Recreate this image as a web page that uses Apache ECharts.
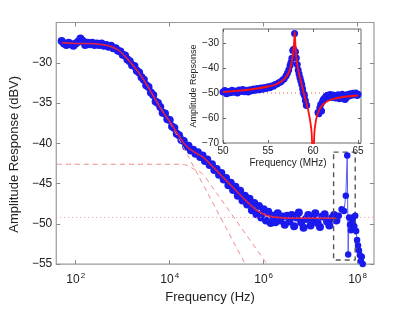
<!DOCTYPE html>
<html><head><meta charset="utf-8">
<script src="https://cdn.jsdelivr.net/npm/echarts@6/dist/echarts.min.js"></script>
<style>html,body{margin:0;padding:0;background:#fff}#c{width:414px;height:309px}</style>
</head><body><div id="c"></div>
<script>
// ---- Main plot: log10(frequency / Hz) and amplitude (dBV) ----
const mainLogF = [1.70,1.75,1.80,1.85,1.90,1.95,2.00,2.05,2.10,2.15,2.20,2.25,2.30,2.35,2.40,2.45,2.50,2.55,2.60,2.65,2.70,2.75,2.80,2.85,2.90,2.95,3.00,3.05,3.10,3.15,3.20,3.25,3.30,3.35,3.40,3.45,3.50,3.55,3.60,3.65,3.70,3.75,3.80,3.85,3.90,3.95,4.00,4.05,4.10,4.15,4.20,4.25,4.30,4.35,4.40,4.45,4.50,4.55,4.60,4.65,4.70,4.75,4.80,4.85,4.90,4.95,5.00,5.05,5.10,5.15,5.20,5.25,5.30,5.35,5.40,5.45,5.50,5.55,5.60,5.65,5.70,5.75,5.80,5.85,5.90,5.95,6.00,6.05,6.10,6.15,6.20,6.25,6.30,6.35,6.40,6.45,6.50,6.55,6.60,6.65,6.70,6.75,6.80,6.85,6.90,6.95,7.00,7.05,7.10,7.15,7.20,7.25,7.30,7.35,7.40,7.45,7.50,7.55];
const mainDb = [-27.3,-27.6,-27.8,-27.5,-27.7,-27.9,-27.6,-27.4,-27.0,-27.3,-27.8,-27.5,-27.7,-27.5,-27.8,-27.6,-27.8,-27.6,-27.9,-27.8,-28.0,-27.9,-28.2,-28.2,-28.5,-28.6,-29.0,-29.1,-29.6,-29.8,-30.3,-30.4,-31.0,-31.2,-31.8,-32.1,-32.8,-33.0,-33.7,-34.0,-34.8,-35.0,-35.5,-36.2,-36.3,-37.0,-37.1,-37.9,-38.1,-38.8,-39.0,-39.6,-39.7,-40.4,-40.3,-40.9,-40.8,-41.3,-41.1,-41.7,-41.5,-42.2,-42.0,-42.7,-42.6,-43.3,-43.2,-43.9,-43.7,-44.5,-44.3,-45.2,-44.9,-45.8,-45.4,-46.5,-45.9,-47.1,-46.5,-47.6,-46.9,-48.3,-47.4,-48.8,-47.8,-49.2,-48.2,-49.6,-48.5,-49.9,-49.0,-49.8,-48.7,-49.6,-49.1,-50.1,-49.0,-49.7,-48.9,-50.3,-49.2,-48.6,-49.8,-50.5,-49.4,-48.9,-50.2,-49.5,-48.7,-49.9,-50.4,-49.1,-48.8,-49.7,-50.2,-49.3,-48.9,-49.6];
const tailLogF = [7.60,7.66,7.71,7.75,7.78,7.80,7.82,7.84,7.86,7.88,7.90,7.93,7.95,7.97,7.99,8.01,8.03,8.05,8.07,8.09,8.11];
const tailDb = [-49.0,-48.2,-48.4,-46.5,-41.5,-53.8,-49.2,-50.1,-50.8,-49.6,-49.2,-50.3,-49.0,-50.9,-52.0,-52.7,-53.3,-53.9,-54.6,-54.1,-55.0];
const fitLogF = [1.7,2.0,2.3,2.5,2.7,2.9,3.05,3.2,3.4,3.6,3.8,4.0,4.2,4.35,4.5,4.7,4.9,5.05,5.2,5.4,5.6,5.75,5.9,6.1,6.3,6.6,7.0,7.3,7.62];
const fitDb = [-27.5,-27.6,-27.6,-27.7,-27.9,-28.4,-29.2,-30.2,-31.7,-33.6,-35.6,-37.3,-39.1,-40.3,-41.0,-41.7,-42.8,-43.7,-44.6,-45.8,-47.0,-47.8,-48.5,-49.0,-49.2,-49.3,-49.3,-49.3,-49.3];
const dash1LogF = [3.5,3.6,3.8,4.0,4.2,4.4,4.6,4.8,5.0,5.2,5.4,5.6,5.7];
const dash1Db = [-32.7,-33.6,-35.5,-37.4,-39.5,-41.7,-43.9,-46.1,-48.3,-50.5,-52.7,-54.9,-56.0];
const dash2LogF = [1.6,4.2,4.35,4.45,4.55,4.7,5.0,5.5,6.0,6.15];
const dash2Db = [-42.6,-42.6,-42.7,-43.0,-43.3,-43.8,-46.2,-50.3,-54.4,-55.6];
const floorLogF = [1.585,8.35];
const floorDb = [-49.2,-49.2];
const boxLogF = [7.49,7.95,7.95,7.49,7.49];
const boxDb = [-41.1,-41.1,-54.5,-54.5,-41.1];
const mainXTicks = [2,4,6,8];
const mainYTicks = [-55,-50,-45,-40,-35,-30];

// ---- Inset: frequency (MHz) and amplitude ----
const insetF = [50.0,50.2,50.4,50.6,50.8,51.0,51.2,51.4,51.6,51.8,52.0,52.2,52.4,52.6,52.8,53.0,53.2,53.4,53.6,53.8,54.0,54.2,54.4,54.6,54.8,55.0,55.2,55.4,55.6,55.8,56.0,56.2,56.4,56.6,56.8,57.0,57.15,57.3,57.45,57.55,57.65,57.75,57.85,57.95,58.05,58.15,58.25,58.35,58.45,58.55,58.65,58.75,58.85,58.95,59.05,59.15,59.25,59.3,60.55,60.65,60.75,60.85,60.95,61.05,61.15,61.3,61.45,61.6,61.75,61.9,62.05,62.2,62.35,62.5,62.65,62.8,62.95,63.1,63.25,63.4,63.55,63.7,63.85,64.0,64.15,64.3,64.45,64.6,64.75,64.9,65.0];
const insetDb = [-49.6,-49.0,-50.3,-49.4,-49.9,-48.9,-49.7,-49.2,-50.0,-48.8,-49.4,-48.6,-49.5,-48.9,-49.6,-48.7,-49.1,-48.4,-48.9,-48.2,-48.7,-48.0,-48.5,-47.8,-48.2,-47.5,-47.9,-47.2,-47.3,-46.6,-46.4,-45.9,-45.6,-44.9,-44.3,-43.2,-42.1,-40.8,-39.0,-37.8,-36.1,-33.0,-32.5,-26.2,-33.5,-36.0,-38.6,-40.8,-42.4,-43.9,-45.2,-46.6,-48.4,-50.2,-51.0,-53.0,-54.8,-55.0,-57.8,-58.3,-56.0,-54.6,-57.2,-53.4,-52.6,-52.0,-51.3,-50.9,-51.5,-50.6,-51.8,-50.8,-51.2,-52.0,-51.1,-50.7,-52.3,-51.0,-50.5,-51.6,-52.6,-51.9,-50.6,-51.2,-50.3,-50.9,-50.1,-50.6,-50.0,-51.0,-50.5];
const insetFitF = [50,51,52,53,54,55,55.5,56,56.5,57,57.3,57.5,57.65,57.8,57.9,57.97,58.05,58.15,58.3,58.5,58.7,58.9,59.1,59.3,59.5,59.7,59.85,59.95,60.05,60.15,60.3,60.5,60.8,61.2,61.7,62.3,63,64,65];
const insetFitDb = [-49.6,-49.3,-49.0,-48.6,-48.1,-47.4,-47.0,-46.3,-45.3,-43.6,-41.8,-39.8,-37.5,-33.5,-29.5,-25.5,-31.0,-36.0,-39.8,-43.2,-46.0,-49.0,-51.8,-54.5,-57.5,-61.5,-66.0,-74.0,-74.0,-66.0,-61.5,-58.5,-56.0,-54.3,-53.1,-52.3,-51.8,-51.3,-51.0];
const insetRefF = [50,65.33];
const insetRefDb = [-50,-50];
const insetXTicks = [50,55,60,65];
const insetYTicks = [-70,-60,-50,-40,-30];

const pairs = (xs, ys) => xs.map((x, i) => [x, ys[i]]);
const minus = v => (v < 0 ? '\u2212' + Math.abs(v) : String(v));
const FONT = 'Liberation Sans, Arial, sans-serif';
const TXT = '#222';
const BLUE = '#1a1aee';

const chart = echarts.init(document.getElementById('c'), null, {renderer: 'canvas'});
const frameAxis = (extra) => Object.assign({
  type: 'value', splitLine: {show: false}, axisLine: {show: false}
}, extra);

chart.setOption({
  animation: false,
  backgroundColor: '#fff',
  textStyle: {fontFamily: FONT},
  grid: [
    {left: 53.5, top: 22.5, width: 320.5, height: 249, show: true, borderColor: '#9a9a9a', borderWidth: 1.2, backgroundColor: '#fff'},
    {left: 223, top: 29, width: 138, height: 114, show: true, borderColor: '#6a6a6a', borderWidth: 1, backgroundColor: '#fff', z: 5}
  ],
  xAxis: [
    frameAxis({gridIndex: 0, min: 1.585, max: 8.35,
      name: 'Frequency (Hz)', nameLocation: 'middle', nameGap: 21,
      nameTextStyle: {fontSize: 13, color: TXT, fontFamily: FONT, padding: [0, 10, 0, 0]},
      axisTick: {inside: true, length: 4, customValues: mainXTicks, lineStyle: {color: '#888'}},
      axisLabel: {customValues: mainXTicks, margin: 8, formatter: v => '{b|10}{s|' + v + '}',
        rich: {b: {fontSize: 12, color: TXT, fontFamily: FONT, lineHeight: 16, verticalAlign: 'middle'},
               s: {fontSize: 8, color: TXT, fontFamily: FONT, lineHeight: 8, verticalAlign: 'top', padding: [0, 0, 0, 1]}}}}),
    frameAxis({gridIndex: 0, position: 'top', min: 1.585, max: 8.35,
      axisTick: {inside: true, length: 4, customValues: mainXTicks, lineStyle: {color: '#888'}},
      axisLabel: {show: false}}),
    frameAxis({gridIndex: 1, min: 50, max: 65.33, z: 6,
      name: 'Frequency (MHz)', nameLocation: 'middle', nameGap: 15,
      nameTextStyle: {fontSize: 10, color: TXT, fontFamily: FONT, padding: [0, 8, 0, 0]},
      axisTick: {inside: true, length: 3, customValues: insetXTicks, lineStyle: {color: '#666'}},
      axisLabel: {customValues: insetXTicks, margin: 3, fontSize: 10, color: TXT, fontFamily: FONT}}),
    frameAxis({gridIndex: 1, position: 'top', min: 50, max: 65.33, z: 6,
      axisTick: {inside: true, length: 3, customValues: insetXTicks, lineStyle: {color: '#666'}},
      axisLabel: {show: false}})
  ],
  yAxis: [
    frameAxis({gridIndex: 0, min: -55, max: -25,
      name: 'Amplitude Response (dBV)', nameLocation: 'middle', nameGap: 29,
      nameTextStyle: {fontSize: 13, color: TXT, fontFamily: FONT, padding: [0, 22, 0, 0]},
      axisTick: {inside: true, length: 4, customValues: mainYTicks, lineStyle: {color: '#888'}},
      axisLabel: {customValues: mainYTicks, margin: 4, fontSize: 12, color: TXT, fontFamily: FONT, formatter: minus}}),
    frameAxis({gridIndex: 0, position: 'right', min: -55, max: -25,
      axisTick: {inside: true, length: 4, customValues: mainYTicks, lineStyle: {color: '#888'}},
      axisLabel: {show: false}}),
    frameAxis({gridIndex: 1, min: -70, max: -24.4, z: 6,
      name: 'Amplitude Repsonse', nameLocation: 'middle', nameGap: 25,
      nameTextStyle: {fontSize: 9, color: TXT, fontFamily: FONT},
      axisTick: {inside: true, length: 3, customValues: insetYTicks, lineStyle: {color: '#666'}},
      axisLabel: {customValues: insetYTicks, margin: 4, fontSize: 10, color: TXT, fontFamily: FONT, formatter: minus}}),
    frameAxis({gridIndex: 1, position: 'right', min: -70, max: -24.4, z: 6,
      axisTick: {inside: true, length: 3, customValues: insetYTicks, lineStyle: {color: '#666'}},
      axisLabel: {show: false}})
  ],
  series: [
    {type: 'line', xAxisIndex: 0, yAxisIndex: 0, data: pairs(floorLogF, floorDb), symbol: 'none', silent: true,
      lineStyle: {color: '#f09090', width: 1, type: [1, 3]}},
    {type: 'line', xAxisIndex: 0, yAxisIndex: 0, data: pairs(dash1LogF, dash1Db), symbol: 'none', smooth: 0.3, clip: true,
      lineStyle: {color: '#f08a8a', width: 1, type: [5, 4]}},
    {type: 'line', xAxisIndex: 0, yAxisIndex: 0, data: pairs(dash2LogF, dash2Db), symbol: 'none', smooth: 0.3, clip: true,
      lineStyle: {color: '#f08a8a', width: 1, type: [5, 4]}},
    {type: 'scatter', xAxisIndex: 0, yAxisIndex: 0, data: pairs(mainLogF, mainDb), symbolSize: 8, clip: true,
      itemStyle: {color: BLUE, opacity: 1, borderWidth: 0}},
    {type: 'line', xAxisIndex: 0, yAxisIndex: 0, data: pairs(tailLogF, tailDb), symbol: 'circle', symbolSize: 6.5, showSymbol: true, clip: true,
      lineStyle: {color: '#5a5af5', width: 1}, itemStyle: {color: BLUE, opacity: 1, borderWidth: 0}},
    {type: 'line', xAxisIndex: 0, yAxisIndex: 0, data: pairs(fitLogF, fitDb), symbol: 'none', smooth: true, clip: true,
      lineStyle: {color: '#d8204a', width: 1.6}},
    {type: 'line', xAxisIndex: 0, yAxisIndex: 0, data: pairs(boxLogF, boxDb), symbol: 'none',
      lineStyle: {color: '#555', width: 1.4, type: [5, 4]}},
    {type: 'line', xAxisIndex: 2, yAxisIndex: 2, data: pairs(insetRefF, insetRefDb), symbol: 'none', z: 7,
      lineStyle: {color: '#e8603a', width: 1, type: [1, 3]}},
    {type: 'scatter', xAxisIndex: 2, yAxisIndex: 2, data: pairs(insetF, insetDb), symbolSize: 7, z: 7, clip: true,
      itemStyle: {color: BLUE, opacity: 1, borderWidth: 0}},
    {type: 'line', xAxisIndex: 2, yAxisIndex: 2, data: pairs(insetFitF, insetFitDb), symbol: 'none', smooth: 0.2, z: 8, clip: true,
      lineStyle: {color: '#ff1010', width: 1.8}}
  ]
});
</script></body></html>
